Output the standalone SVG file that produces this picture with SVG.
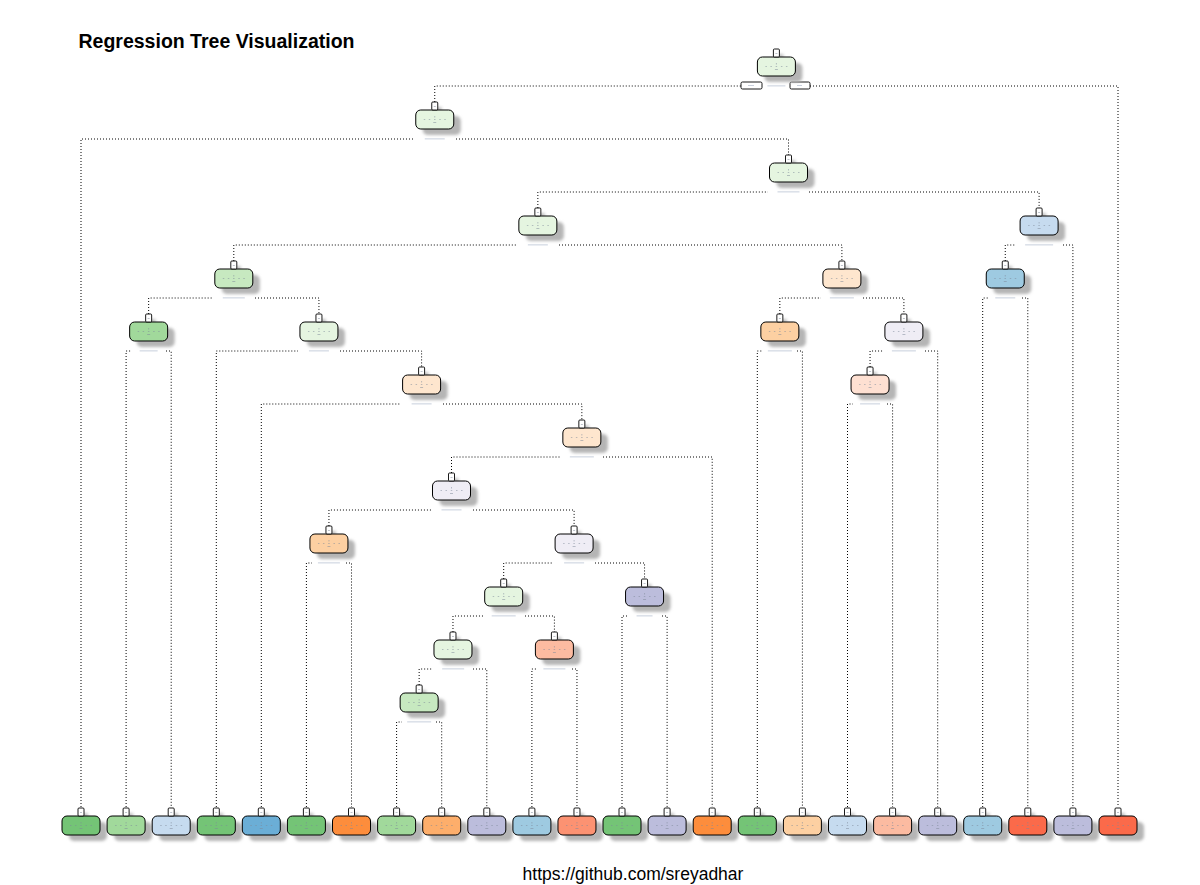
<svg xmlns="http://www.w3.org/2000/svg" xmlns:xlink="http://www.w3.org/1999/xlink" width="1200" height="885" viewBox="0 0 1200 885">
<style>
.con{fill:none;stroke:#000;stroke-width:1;stroke-dasharray:1 2}
.lbl{fill:#8e9cb8;opacity:0.6}
.title{font-family:"Liberation Sans",Arial,sans-serif;font-weight:bold;font-size:19.5px;fill:#000}
.foot{font-family:"Liberation Sans",Arial,sans-serif;font-size:17.5px;fill:#000}
.yn{fill:#fff;stroke:#000;stroke-width:0.9}
</style>
<defs>
<filter id="blur" x="-40%" y="-40%" width="180%" height="180%"><feGaussianBlur stdDeviation="1.8"/></filter>
<g id="shape">
  <rect x="-12" y="6" width="38" height="19" rx="5" fill="#b5b5b5" filter="url(#blur)"/>
  <rect x="1" y="-3" width="6" height="8" fill="#c4c4c4" filter="url(#blur)"/>
  <rect x="-19" y="0" width="38" height="19" rx="5" stroke="#000" stroke-width="1"/>
  <rect x="-3" y="-8" width="6" height="8" rx="1" fill="#fff" stroke="#000" stroke-width="0.9"/>
  <g fill="#7d8898" opacity="0.5">
    <rect x="-11" y="9" width="1.5" height="1"/>
    <rect x="-6" y="9" width="1.5" height="1"/>
    <rect x="-0.75" y="9" width="1.5" height="1"/>
    <rect x="4.5" y="9" width="1.5" height="1"/>
    <rect x="9.5" y="9" width="1.5" height="1"/>
    <rect x="-0.5" y="6" width="1" height="1.5"/>
    <rect x="-1.5" y="12" width="3" height="1"/>
    <rect x="-1" y="-4" width="2" height="1"/>
  </g>
</g>
</defs>
<rect width="1200" height="885" fill="#fff"/>
<text class="title" x="78.5" y="47.5">Regression Tree Visualization</text>

<g id="connectors">
  <path class="con" d="M434.75,102 V86 H741 M810,86 H1118 V807"/>
  <path class="con" d="M81,807 V139 H414 M456,139 H788.5 V155"/>
  <path class="con" d="M537.85,208 V192 H768 M809,192 H1039.1 V208"/>
  <path class="con" d="M233.8,261 V245 H517 M559,245 H841.9 V261"/>
  <path class="con" d="M1005.25,261 V245 H1015 M1063,245 H1072.9 V807"/>
  <path class="con" d="M148.65,314 V298 H213 M255,298 H318.95 V314"/>
  <path class="con" d="M779.85,314 V298 H821 M863,298 H903.9 V314"/>
  <path class="con" d="M982.7,807 V298 H989 M1022,298 H1027.8 V807"/>
  <path class="con" d="M126.1,807 V351 H132 M166,351 H171.2 V807"/>
  <path class="con" d="M216.3,807 V351 H298 M340,351 H421.6 V367"/>
  <path class="con" d="M757.3,807 V351 H763 M797,351 H802.4 V807"/>
  <path class="con" d="M870.05,367 V351 H883 M925,351 H937.7 V807"/>
  <path class="con" d="M261.3,807 V404 H401 M443,404 H581.85 V420"/>
  <path class="con" d="M847.5,807 V404 H853 M887,404 H892.6 V807"/>
  <path class="con" d="M451.5,473 V457 H561 M603,457 H712.2 V807"/>
  <path class="con" d="M328.95,526 V510 H431 M473,510 H574.1 V526"/>
  <path class="con" d="M306.4,807 V563 H312 M346,563 H351.5 V807"/>
  <path class="con" d="M503.7,579 V563 H553 M595,563 H644.55 V579"/>
  <path class="con" d="M452.97,632 V616 H483 M525,616 H554.4 V632"/>
  <path class="con" d="M622,807 V616 H627 M662,616 H667.1 V807"/>
  <path class="con" d="M419.15,685 V669 H433 M473,669 H486.8 V807"/>
  <path class="con" d="M531.9,807 V669 H537 M572,669 H576.96 V807"/>
  <path class="con" d="M396.6,807 V722 H402 M436,722 H441.7 V807"/>
</g>

<g id="split-labels">
  <rect class="yn" x="741" y="82" width="21" height="7" rx="1.5"/>
  <rect class="yn" x="790" y="82" width="20" height="7" rx="1.5"/>
  <rect class="lbl" x="748" y="85" width="6" height="0.8"/>
  <rect class="lbl" x="797" y="85" width="5" height="0.8"/>
  <rect class="lbl" x="767.4" y="85.5" width="18" height="0.8"/>
  <rect class="lbl" x="424.75" y="138.5" width="20" height="0.8"/>
  <rect class="lbl" x="777.5" y="191.5" width="22" height="0.8"/>
  <rect class="lbl" x="527.85" y="244.5" width="20" height="0.8"/>
  <rect class="lbl" x="1025.1" y="244.5" width="28" height="0.8"/>
  <rect class="lbl" x="222.8" y="297.5" width="22" height="0.8"/>
  <rect class="lbl" x="829.9" y="297.5" width="24" height="0.8"/>
  <rect class="lbl" x="995.25" y="297.5" width="20" height="0.8"/>
  <rect class="lbl" x="139.65" y="350.5" width="18" height="0.8"/>
  <rect class="lbl" x="308.95" y="350.5" width="20" height="0.8"/>
  <rect class="lbl" x="767.85" y="350.5" width="24" height="0.8"/>
  <rect class="lbl" x="891.9" y="350.5" width="24" height="0.8"/>
  <rect class="lbl" x="411.6" y="403.5" width="20" height="0.8"/>
  <rect class="lbl" x="860.05" y="403.5" width="20" height="0.8"/>
  <rect class="lbl" x="569.85" y="456.5" width="24" height="0.8"/>
  <rect class="lbl" x="441.5" y="509.5" width="20" height="0.8"/>
  <rect class="lbl" x="317.95" y="562.5" width="22" height="0.8"/>
  <rect class="lbl" x="564.1" y="562.5" width="20" height="0.8"/>
  <rect class="lbl" x="491.7" y="615.5" width="24" height="0.8"/>
  <rect class="lbl" x="636.55" y="615.5" width="16" height="0.8"/>
  <rect class="lbl" x="442.15" y="668.5" width="22" height="0.8"/>
  <rect class="lbl" x="543.4" y="668.5" width="22" height="0.8"/>
  <rect class="lbl" x="407.15" y="721.5" width="24" height="0.8"/>
</g>

<g id="node1" transform="translate(776.4,57)"><use href="#shape" fill="#e5f5e0"/></g>
<g id="node2" transform="translate(434.75,110)"><use href="#shape" fill="#e5f5e0"/></g>
<g id="node3" transform="translate(788.5,163)"><use href="#shape" fill="#e5f5e0"/></g>
<g id="node4" transform="translate(537.85,216)"><use href="#shape" fill="#e5f5e0"/></g>
<g id="node22" transform="translate(1039.1,216)"><use href="#shape" fill="#c6dbef"/></g>
<g id="node5" transform="translate(233.8,269)"><use href="#shape" fill="#c7e9c0"/></g>
<g id="node18" transform="translate(841.9,269)"><use href="#shape" fill="#fee6ce"/></g>
<g id="node23" transform="translate(1005.25,269)"><use href="#shape" fill="#9ecae1"/></g>
<g id="node6" transform="translate(148.65,322)"><use href="#shape" fill="#a1d99b"/></g>
<g id="node7" transform="translate(318.95,322)"><use href="#shape" fill="#e5f5e0"/></g>
<g id="node19" transform="translate(779.85,322)"><use href="#shape" fill="#fdd0a2"/></g>
<g id="node20" transform="translate(903.9,322)"><use href="#shape" fill="#efedf5"/></g>
<g id="node8" transform="translate(421.6,375)"><use href="#shape" fill="#fee6ce"/></g>
<g id="node21" transform="translate(870.05,375)"><use href="#shape" fill="#fee0d2"/></g>
<g id="node9" transform="translate(581.85,428)"><use href="#shape" fill="#fee6ce"/></g>
<g id="node10" transform="translate(451.5,481)"><use href="#shape" fill="#efedf5"/></g>
<g id="node11" transform="translate(328.95,534)"><use href="#shape" fill="#fdd0a2"/></g>
<g id="node12" transform="translate(574.1,534)"><use href="#shape" fill="#efedf5"/></g>
<g id="node13" transform="translate(503.7,587)"><use href="#shape" fill="#e5f5e0"/></g>
<g id="node17" transform="translate(644.55,587)"><use href="#shape" fill="#bcbddc"/></g>
<g id="node14" transform="translate(452.97,640)"><use href="#shape" fill="#e5f5e0"/></g>
<g id="node16" transform="translate(554.4,640)"><use href="#shape" fill="#fcbba1"/></g>
<g id="node15" transform="translate(419.15,693)"><use href="#shape" fill="#c7e9c0"/></g>

<g id="leaf1" transform="translate(81,816)"><use href="#shape" fill="#74c476"/></g>
<g id="leaf2" transform="translate(126.1,816)"><use href="#shape" fill="#a1d99b"/></g>
<g id="leaf3" transform="translate(171.2,816)"><use href="#shape" fill="#c6dbef"/></g>
<g id="leaf4" transform="translate(216.3,816)"><use href="#shape" fill="#74c476"/></g>
<g id="leaf5" transform="translate(261.3,816)"><use href="#shape" fill="#6baed6"/></g>
<g id="leaf6" transform="translate(306.4,816)"><use href="#shape" fill="#74c476"/></g>
<g id="leaf7" transform="translate(351.5,816)"><use href="#shape" fill="#fd8d3c"/></g>
<g id="leaf8" transform="translate(396.6,816)"><use href="#shape" fill="#a1d99b"/></g>
<g id="leaf9" transform="translate(441.7,816)"><use href="#shape" fill="#fdae6b"/></g>
<g id="leaf10" transform="translate(486.8,816)"><use href="#shape" fill="#bcbddc"/></g>
<g id="leaf11" transform="translate(531.9,816)"><use href="#shape" fill="#9ecae1"/></g>
<g id="leaf12" transform="translate(576.96,816)"><use href="#shape" fill="#fc9272"/></g>
<g id="leaf13" transform="translate(622,816)"><use href="#shape" fill="#74c476"/></g>
<g id="leaf14" transform="translate(667.1,816)"><use href="#shape" fill="#bcbddc"/></g>
<g id="leaf15" transform="translate(712.2,816)"><use href="#shape" fill="#fd8d3c"/></g>
<g id="leaf16" transform="translate(757.3,816)"><use href="#shape" fill="#74c476"/></g>
<g id="leaf17" transform="translate(802.4,816)"><use href="#shape" fill="#fdd0a2"/></g>
<g id="leaf18" transform="translate(847.5,816)"><use href="#shape" fill="#c6dbef"/></g>
<g id="leaf19" transform="translate(892.6,816)"><use href="#shape" fill="#fcbba1"/></g>
<g id="leaf20" transform="translate(937.7,816)"><use href="#shape" fill="#bcbddc"/></g>
<g id="leaf21" transform="translate(982.7,816)"><use href="#shape" fill="#9ecae1"/></g>
<g id="leaf22" transform="translate(1027.8,816)"><use href="#shape" fill="#fb6a4a"/></g>
<g id="leaf23" transform="translate(1072.9,816)"><use href="#shape" fill="#bcbddc"/></g>
<g id="leaf24" transform="translate(1118,816)"><use href="#shape" fill="#fb6a4a"/></g>

<text class="foot" x="633" y="880" text-anchor="middle">https://github.com/sreyadhar</text>
</svg>
